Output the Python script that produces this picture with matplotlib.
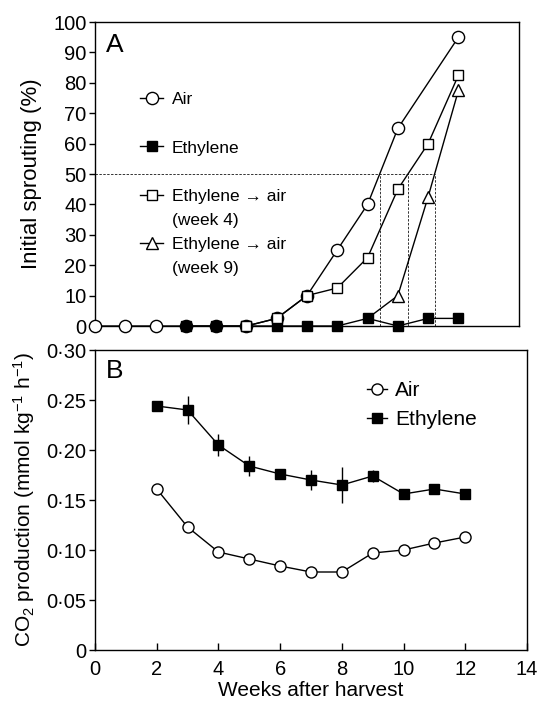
import numpy as np
import matplotlib
matplotlib.use("Agg")
import matplotlib.pyplot as plt
from matplotlib.lines import Line2D

plt.rcParams['font.family'] = ['Liberation Sans', 'DejaVu Sans']
plt.rcParams['mathtext.fontset'] = 'custom'
plt.rcParams['mathtext.rm'] = 'Liberation Sans'
plt.rcParams['mathtext.it'] = 'Liberation Sans:italic'
plt.rcParams['mathtext.bf'] = 'Liberation Sans:bold'

# ---------------- Panel A data (initial sprouting, %) ----------------
air_weeks_a = [0, 1, 2, 3, 4, 5, 6, 7, 8, 9, 10, 12]
air_sprout = [0, 0, 0, 0, 0, 0, 2.5, 10, 25, 40, 65, 95]

eth_weeks_a = [3, 4, 5, 6, 7, 8, 9, 10, 11, 12]
eth_sprout = [0, 0, 0, 0, 0, 0, 2.5, 0, 2.5, 2.5]

eth_air4_weeks = [5, 6, 7, 8, 9, 10, 11, 12]
eth_air4_sprout = [0, 2.5, 10, 12.5, 22.5, 45, 60, 82.5]

eth_air9_weeks = [9, 10, 11, 12]
eth_air9_sprout = [2.5, 10, 42.5, 77.5]

threshold = 50

legend_a_labels = ['Air', 'Ethylene', 'Ethylene \u2192 air', '(week 4)',
                   'Ethylene \u2192 air', '(week 9)']

# ---------------- Panel B data (CO2 production) ----------------
weeks_b = [2, 3, 4, 5, 6, 7, 8, 9, 10, 11, 12]
air_co2 = [0.161, 0.123, 0.098, 0.091, 0.084, 0.078, 0.078, 0.097, 0.100, 0.107, 0.113]
eth_co2 = [0.244, 0.240, 0.205, 0.184, 0.176, 0.170, 0.165, 0.174, 0.156, 0.161, 0.156]
eth_co2_err = [0.002, 0.014, 0.011, 0.010, 0.005, 0.010, 0.018, 0.006, 0.002, 0.002, 0.002]

yticks_b = [0, 0.05, 0.10, 0.15, 0.20, 0.25, 0.30]
ytick_labels_b = ['0', '0\u00b705', '0\u00b710', '0\u00b715', '0\u00b720', '0\u00b725', '0\u00b730']
xticks_b = [0, 2, 4, 6, 8, 10, 12, 14]
yticks_a = [0, 10, 20, 30, 40, 50, 60, 70, 80, 90, 100]

FS_TICK = 14.5
FS_LABEL = 15
FS_LABEL_A = 16
FS_LEG_A = 12.5
FS_LEG_B = 15
LW = 1.0

fig = plt.figure(figsize=(5.40, 7.01), dpi=100)
axA = fig.add_axes([95/540, 1 - 326/701, (519-95)/540, (326-22)/701])
axB = fig.add_axes([95/540, 1 - 650/701, (527-95)/540, (650-350)/701])

# ---------------- Panel A ----------------
axA.plot(air_weeks_a, air_sprout, '-o', color='black', lw=LW, ms=8.8,
         mfc='white', mec='black', mew=1.0, clip_on=False, zorder=3)
axA.plot(eth_weeks_a, eth_sprout, '-s', color='black', lw=LW, ms=7.6,
         mfc='black', mec='black', mew=1.0, clip_on=False, zorder=4)
axA.plot(eth_air9_weeks, eth_air9_sprout, '-^', color='black', lw=LW, ms=8.5,
         mfc='white', mec='black', mew=1.0, clip_on=False, zorder=5,
         markevery=slice(1, None))
axA.plot(eth_air4_weeks, eth_air4_sprout, '-s', color='black', lw=LW, ms=7.6,
         mfc='white', mec='black', mew=1.0, clip_on=False, zorder=6)

# 50% crossing points, interpolated from the data
cross = [np.interp(threshold, air_sprout[-4:], air_weeks_a[-4:]),
         np.interp(threshold, eth_air4_sprout[-4:], eth_air4_weeks[-4:]),
         np.interp(threshold, eth_air9_sprout, eth_air9_weeks)]
axA.plot([0, max(cross)], [threshold, threshold], ls=(0, (2.5, 1.5)),
         color='#333333', lw=0.7, zorder=1)
for c in cross:
    axA.plot([c, c], [0, threshold], ls=(0, (2.5, 1.5)), color='#333333',
             lw=0.7, zorder=1)

axA.set_xlim(0, 14)
axA.set_ylim(0, 100)
axA.set_yticks(yticks_a)
axA.set_xticks([])
axA.tick_params(axis='y', direction='out', length=4, width=1.0,
                labelsize=FS_TICK, pad=2)
for s in axA.spines.values():
    s.set_linewidth(1.0)
axA.set_ylabel('Initial sprouting (%)', fontsize=FS_LABEL_A)
axA.yaxis.set_label_coords(-0.125, 0.5)
axA.text(0.025, 0.925, 'A', transform=axA.transAxes, fontsize=19,
         ha='left', va='center')

blank = Line2D([], [], linestyle='none')
hA = [Line2D([], [], color='black', lw=LW, marker='o', ms=8.8, mfc='white', mec='black'),
      Line2D([], [], color='black', lw=LW, marker='s', ms=7.6, mfc='black', mec='black'),
      Line2D([], [], color='black', lw=LW, marker='s', ms=7.6, mfc='white', mec='black'),
      Line2D([], [], color='black', lw=LW, marker='^', ms=8.5, mfc='white', mec='black')]
handles_a = [hA[0], blank, hA[1], blank, hA[2], blank, hA[3], blank]
labels_a = [legend_a_labels[0], ' ', legend_a_labels[1], ' ',
            legend_a_labels[2], legend_a_labels[3],
            legend_a_labels[4], legend_a_labels[5]]
axA.legend(handles_a, labels_a, loc='upper left',
           bbox_to_anchor=((140-95)/424, (326-92)/304),
           frameon=False, fontsize=FS_LEG_A, handlelength=1.35,
           handletextpad=0.5, labelspacing=0.52, borderpad=0,
           borderaxespad=0)

# ---------------- Panel B ----------------
axB.plot(weeks_b, air_co2, '-o', color='black', lw=LW, ms=8.0,
         mfc='white', mec='black', mew=1.0, zorder=3)
axB.errorbar(weeks_b, eth_co2, yerr=eth_co2_err, fmt='-s', color='black',
             lw=LW, ms=7.6, mfc='black', mec='black', capsize=0,
             elinewidth=1.0, zorder=4)
axB.set_xlim(0, 14)
axB.set_ylim(0, 0.30)
axB.set_xticks(xticks_b)
axB.set_yticks(yticks_b)
axB.set_yticklabels(ytick_labels_b)
axB.tick_params(axis='y', direction='out', length=4, width=1.0,
                labelsize=FS_TICK, pad=2)
axB.tick_params(axis='x', direction='in', length=5, width=1.0,
                labelsize=FS_TICK, pad=7)
for s in axB.spines.values():
    s.set_linewidth(1.0)
axB.set_ylabel(r'CO$_2$ production (mmol kg$^{-1}$ h$^{-1}$)', fontsize=FS_LABEL)
axB.yaxis.set_label_coords(-0.134, 0.5)
axB.set_xlabel('Weeks after harvest', fontsize=FS_LABEL, labelpad=2)
axB.text(0.025, 0.93, 'B', transform=axB.transAxes, fontsize=19,
         ha='left', va='center')

hB = [Line2D([], [], color='black', lw=LW, marker='o', ms=8.0, mfc='white', mec='black'),
      Line2D([], [], color='black', lw=LW, marker='s', ms=7.6, mfc='black', mec='black')]
axB.legend(hB, ['Air', 'Ethylene'], loc='upper left',
           bbox_to_anchor=((367-95)/432, (650-381)/300), frameon=False,
           fontsize=FS_LEG_B, handlelength=0.95, handletextpad=0.4,
           labelspacing=0.47, borderpad=0, borderaxespad=0)

fig.savefig('out.png', dpi=100)
